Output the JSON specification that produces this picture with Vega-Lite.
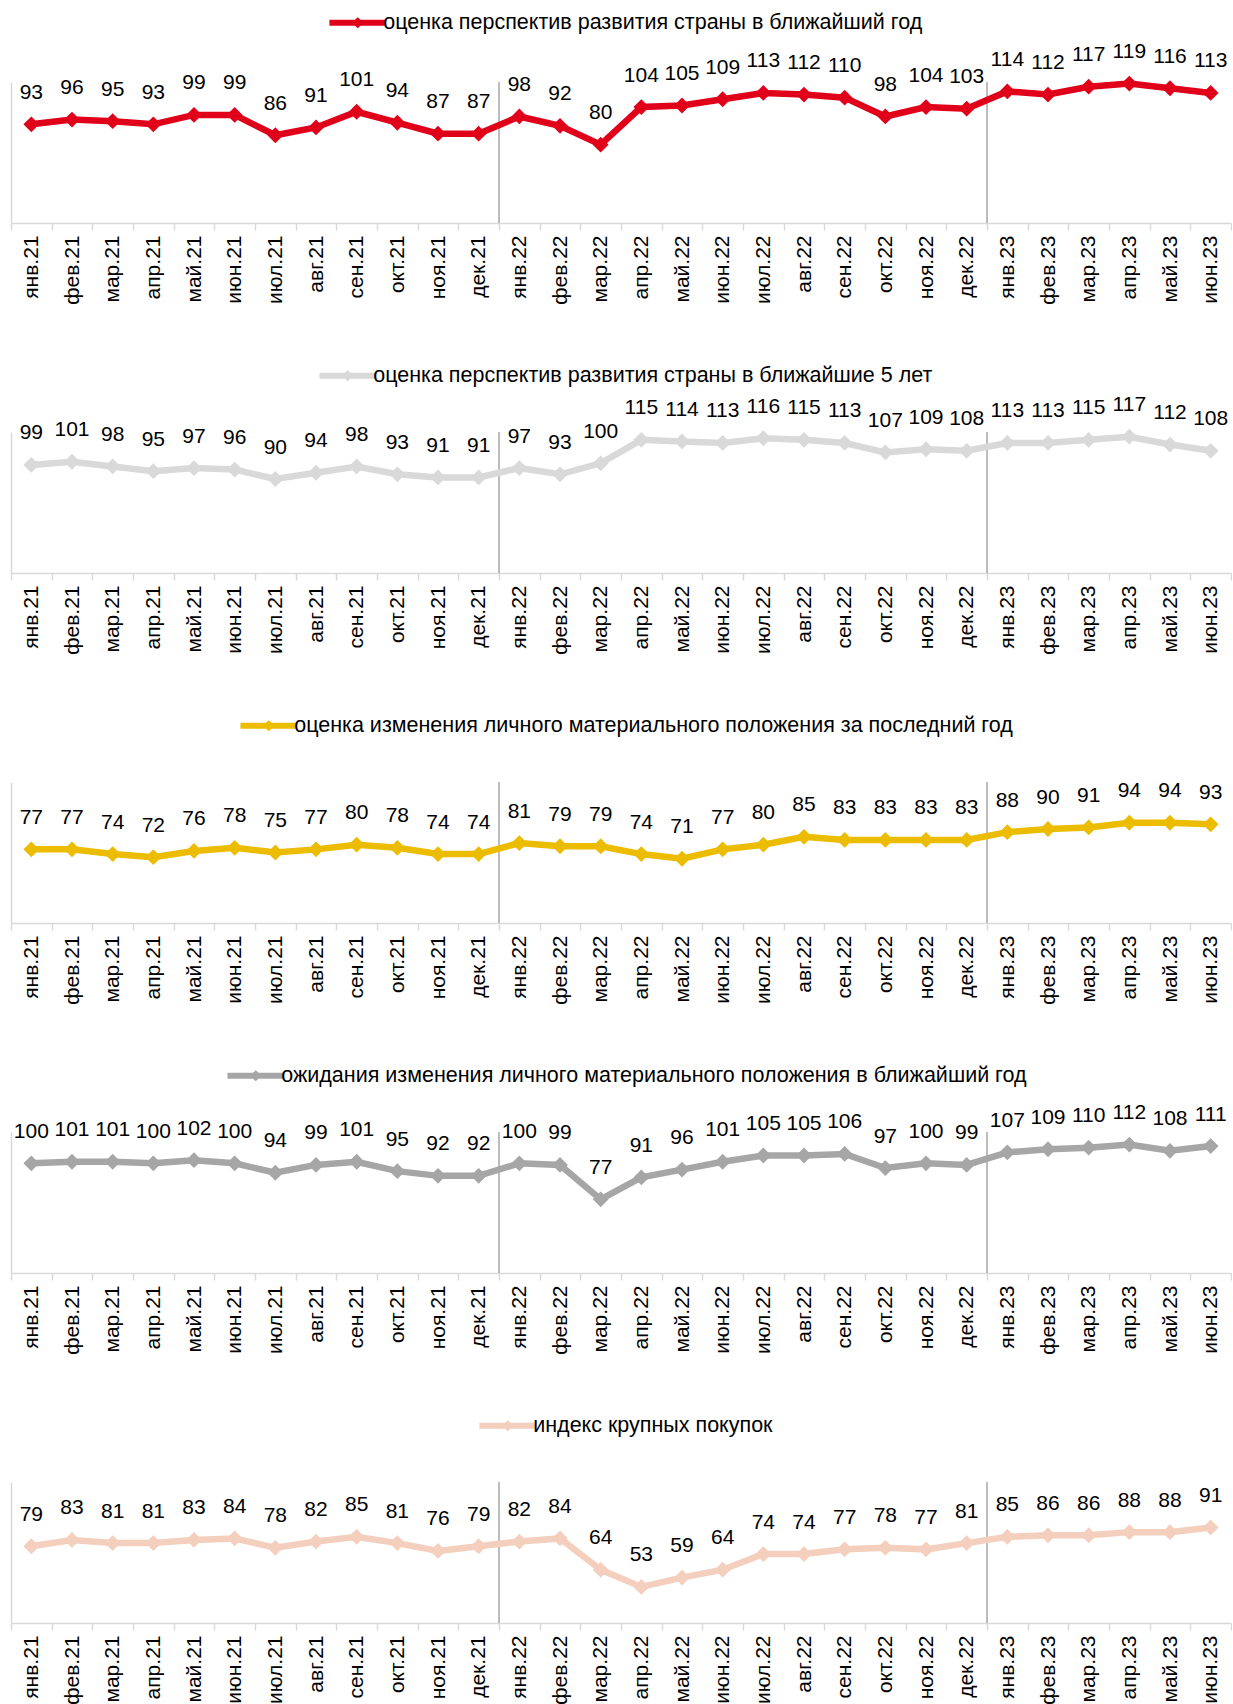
{
  "$schema": "https://vega.github.io/schema/vega-lite/v6.json",
  "padding": {"left": 0, "top": 12, "right": 0, "bottom": 0},
  "background": "white",
  "config": {
    "font": "Liberation Sans",
    "view": {"stroke": null},
    "axisX": {"domainColor": "#d9d9d9", "domainWidth": 1.5, "tickColor": "#d9d9d9", "tickWidth": 1.5, "tickSize": 7, "tickBand": "extent", "labelAngle": -90, "labelFontSize": 21, "labelFont": "Liberation Sans", "labelColor": "#000000", "labelPadding": 5, "title": null, "grid": false, "labelOverlap": false},
    "axisY": {"domainColor": "#d9d9d9", "domainWidth": 1.5, "ticks": false, "labels": false, "grid": false, "title": null, "minExtent": 0, "maxExtent": 0, "labelPadding": 0, "offset": 0},
    "legend": {"labelFontSize": 21.5, "labelFont": "Liberation Sans", "labelColor": "#000000", "labelLimit": 2000, "symbolStrokeWidth": 0, "symbolOpacity": 1, "labelOffset": 14.7, "padding": 0}
  },
  "datasets": {
    "s1": [
      {"series": "оценка перспектив развития страны в ближайший год", "month": "янв.21", "value": 93},
      {"series": "оценка перспектив развития страны в ближайший год", "month": "фев.21", "value": 96},
      {"series": "оценка перспектив развития страны в ближайший год", "month": "мар.21", "value": 95},
      {"series": "оценка перспектив развития страны в ближайший год", "month": "апр.21", "value": 93},
      {"series": "оценка перспектив развития страны в ближайший год", "month": "май.21", "value": 99},
      {"series": "оценка перспектив развития страны в ближайший год", "month": "июн.21", "value": 99},
      {"series": "оценка перспектив развития страны в ближайший год", "month": "июл.21", "value": 86},
      {"series": "оценка перспектив развития страны в ближайший год", "month": "авг.21", "value": 91},
      {"series": "оценка перспектив развития страны в ближайший год", "month": "сен.21", "value": 101},
      {"series": "оценка перспектив развития страны в ближайший год", "month": "окт.21", "value": 94},
      {"series": "оценка перспектив развития страны в ближайший год", "month": "ноя.21", "value": 87},
      {"series": "оценка перспектив развития страны в ближайший год", "month": "дек.21", "value": 87},
      {"series": "оценка перспектив развития страны в ближайший год", "month": "янв.22", "value": 98},
      {"series": "оценка перспектив развития страны в ближайший год", "month": "фев.22", "value": 92},
      {"series": "оценка перспектив развития страны в ближайший год", "month": "мар.22", "value": 80},
      {"series": "оценка перспектив развития страны в ближайший год", "month": "апр.22", "value": 104},
      {"series": "оценка перспектив развития страны в ближайший год", "month": "май.22", "value": 105},
      {"series": "оценка перспектив развития страны в ближайший год", "month": "июн.22", "value": 109},
      {"series": "оценка перспектив развития страны в ближайший год", "month": "июл.22", "value": 113},
      {"series": "оценка перспектив развития страны в ближайший год", "month": "авг.22", "value": 112},
      {"series": "оценка перспектив развития страны в ближайший год", "month": "сен.22", "value": 110},
      {"series": "оценка перспектив развития страны в ближайший год", "month": "окт.22", "value": 98},
      {"series": "оценка перспектив развития страны в ближайший год", "month": "ноя.22", "value": 104},
      {"series": "оценка перспектив развития страны в ближайший год", "month": "дек.22", "value": 103},
      {"series": "оценка перспектив развития страны в ближайший год", "month": "янв.23", "value": 114},
      {"series": "оценка перспектив развития страны в ближайший год", "month": "фев.23", "value": 112},
      {"series": "оценка перспектив развития страны в ближайший год", "month": "мар.23", "value": 117},
      {"series": "оценка перспектив развития страны в ближайший год", "month": "апр.23", "value": 119},
      {"series": "оценка перспектив развития страны в ближайший год", "month": "май.23", "value": 116},
      {"series": "оценка перспектив развития страны в ближайший год", "month": "июн.23", "value": 113}
    ],
    "s2": [
      {"series": "оценка перспектив развития страны в ближайшие 5 лет", "month": "янв.21", "value": 99},
      {"series": "оценка перспектив развития страны в ближайшие 5 лет", "month": "фев.21", "value": 101},
      {"series": "оценка перспектив развития страны в ближайшие 5 лет", "month": "мар.21", "value": 98},
      {"series": "оценка перспектив развития страны в ближайшие 5 лет", "month": "апр.21", "value": 95},
      {"series": "оценка перспектив развития страны в ближайшие 5 лет", "month": "май.21", "value": 97},
      {"series": "оценка перспектив развития страны в ближайшие 5 лет", "month": "июн.21", "value": 96},
      {"series": "оценка перспектив развития страны в ближайшие 5 лет", "month": "июл.21", "value": 90},
      {"series": "оценка перспектив развития страны в ближайшие 5 лет", "month": "авг.21", "value": 94},
      {"series": "оценка перспектив развития страны в ближайшие 5 лет", "month": "сен.21", "value": 98},
      {"series": "оценка перспектив развития страны в ближайшие 5 лет", "month": "окт.21", "value": 93},
      {"series": "оценка перспектив развития страны в ближайшие 5 лет", "month": "ноя.21", "value": 91},
      {"series": "оценка перспектив развития страны в ближайшие 5 лет", "month": "дек.21", "value": 91},
      {"series": "оценка перспектив развития страны в ближайшие 5 лет", "month": "янв.22", "value": 97},
      {"series": "оценка перспектив развития страны в ближайшие 5 лет", "month": "фев.22", "value": 93},
      {"series": "оценка перспектив развития страны в ближайшие 5 лет", "month": "мар.22", "value": 100},
      {"series": "оценка перспектив развития страны в ближайшие 5 лет", "month": "апр.22", "value": 115},
      {"series": "оценка перспектив развития страны в ближайшие 5 лет", "month": "май.22", "value": 114},
      {"series": "оценка перспектив развития страны в ближайшие 5 лет", "month": "июн.22", "value": 113},
      {"series": "оценка перспектив развития страны в ближайшие 5 лет", "month": "июл.22", "value": 116},
      {"series": "оценка перспектив развития страны в ближайшие 5 лет", "month": "авг.22", "value": 115},
      {"series": "оценка перспектив развития страны в ближайшие 5 лет", "month": "сен.22", "value": 113},
      {"series": "оценка перспектив развития страны в ближайшие 5 лет", "month": "окт.22", "value": 107},
      {"series": "оценка перспектив развития страны в ближайшие 5 лет", "month": "ноя.22", "value": 109},
      {"series": "оценка перспектив развития страны в ближайшие 5 лет", "month": "дек.22", "value": 108},
      {"series": "оценка перспектив развития страны в ближайшие 5 лет", "month": "янв.23", "value": 113},
      {"series": "оценка перспектив развития страны в ближайшие 5 лет", "month": "фев.23", "value": 113},
      {"series": "оценка перспектив развития страны в ближайшие 5 лет", "month": "мар.23", "value": 115},
      {"series": "оценка перспектив развития страны в ближайшие 5 лет", "month": "апр.23", "value": 117},
      {"series": "оценка перспектив развития страны в ближайшие 5 лет", "month": "май.23", "value": 112},
      {"series": "оценка перспектив развития страны в ближайшие 5 лет", "month": "июн.23", "value": 108}
    ],
    "s3": [
      {"series": "оценка изменения личного материального положения за последний год", "month": "янв.21", "value": 77},
      {"series": "оценка изменения личного материального положения за последний год", "month": "фев.21", "value": 77},
      {"series": "оценка изменения личного материального положения за последний год", "month": "мар.21", "value": 74},
      {"series": "оценка изменения личного материального положения за последний год", "month": "апр.21", "value": 72},
      {"series": "оценка изменения личного материального положения за последний год", "month": "май.21", "value": 76},
      {"series": "оценка изменения личного материального положения за последний год", "month": "июн.21", "value": 78},
      {"series": "оценка изменения личного материального положения за последний год", "month": "июл.21", "value": 75},
      {"series": "оценка изменения личного материального положения за последний год", "month": "авг.21", "value": 77},
      {"series": "оценка изменения личного материального положения за последний год", "month": "сен.21", "value": 80},
      {"series": "оценка изменения личного материального положения за последний год", "month": "окт.21", "value": 78},
      {"series": "оценка изменения личного материального положения за последний год", "month": "ноя.21", "value": 74},
      {"series": "оценка изменения личного материального положения за последний год", "month": "дек.21", "value": 74},
      {"series": "оценка изменения личного материального положения за последний год", "month": "янв.22", "value": 81},
      {"series": "оценка изменения личного материального положения за последний год", "month": "фев.22", "value": 79},
      {"series": "оценка изменения личного материального положения за последний год", "month": "мар.22", "value": 79},
      {"series": "оценка изменения личного материального положения за последний год", "month": "апр.22", "value": 74},
      {"series": "оценка изменения личного материального положения за последний год", "month": "май.22", "value": 71},
      {"series": "оценка изменения личного материального положения за последний год", "month": "июн.22", "value": 77},
      {"series": "оценка изменения личного материального положения за последний год", "month": "июл.22", "value": 80},
      {"series": "оценка изменения личного материального положения за последний год", "month": "авг.22", "value": 85},
      {"series": "оценка изменения личного материального положения за последний год", "month": "сен.22", "value": 83},
      {"series": "оценка изменения личного материального положения за последний год", "month": "окт.22", "value": 83},
      {"series": "оценка изменения личного материального положения за последний год", "month": "ноя.22", "value": 83},
      {"series": "оценка изменения личного материального положения за последний год", "month": "дек.22", "value": 83},
      {"series": "оценка изменения личного материального положения за последний год", "month": "янв.23", "value": 88},
      {"series": "оценка изменения личного материального положения за последний год", "month": "фев.23", "value": 90},
      {"series": "оценка изменения личного материального положения за последний год", "month": "мар.23", "value": 91},
      {"series": "оценка изменения личного материального положения за последний год", "month": "апр.23", "value": 94},
      {"series": "оценка изменения личного материального положения за последний год", "month": "май.23", "value": 94},
      {"series": "оценка изменения личного материального положения за последний год", "month": "июн.23", "value": 93}
    ],
    "s4": [
      {"series": "ожидания изменения личного материального положения в ближайший год", "month": "янв.21", "value": 100},
      {"series": "ожидания изменения личного материального положения в ближайший год", "month": "фев.21", "value": 101},
      {"series": "ожидания изменения личного материального положения в ближайший год", "month": "мар.21", "value": 101},
      {"series": "ожидания изменения личного материального положения в ближайший год", "month": "апр.21", "value": 100},
      {"series": "ожидания изменения личного материального положения в ближайший год", "month": "май.21", "value": 102},
      {"series": "ожидания изменения личного материального положения в ближайший год", "month": "июн.21", "value": 100},
      {"series": "ожидания изменения личного материального положения в ближайший год", "month": "июл.21", "value": 94},
      {"series": "ожидания изменения личного материального положения в ближайший год", "month": "авг.21", "value": 99},
      {"series": "ожидания изменения личного материального положения в ближайший год", "month": "сен.21", "value": 101},
      {"series": "ожидания изменения личного материального положения в ближайший год", "month": "окт.21", "value": 95},
      {"series": "ожидания изменения личного материального положения в ближайший год", "month": "ноя.21", "value": 92},
      {"series": "ожидания изменения личного материального положения в ближайший год", "month": "дек.21", "value": 92},
      {"series": "ожидания изменения личного материального положения в ближайший год", "month": "янв.22", "value": 100},
      {"series": "ожидания изменения личного материального положения в ближайший год", "month": "фев.22", "value": 99},
      {"series": "ожидания изменения личного материального положения в ближайший год", "month": "мар.22", "value": 77},
      {"series": "ожидания изменения личного материального положения в ближайший год", "month": "апр.22", "value": 91},
      {"series": "ожидания изменения личного материального положения в ближайший год", "month": "май.22", "value": 96},
      {"series": "ожидания изменения личного материального положения в ближайший год", "month": "июн.22", "value": 101},
      {"series": "ожидания изменения личного материального положения в ближайший год", "month": "июл.22", "value": 105},
      {"series": "ожидания изменения личного материального положения в ближайший год", "month": "авг.22", "value": 105},
      {"series": "ожидания изменения личного материального положения в ближайший год", "month": "сен.22", "value": 106},
      {"series": "ожидания изменения личного материального положения в ближайший год", "month": "окт.22", "value": 97},
      {"series": "ожидания изменения личного материального положения в ближайший год", "month": "ноя.22", "value": 100},
      {"series": "ожидания изменения личного материального положения в ближайший год", "month": "дек.22", "value": 99},
      {"series": "ожидания изменения личного материального положения в ближайший год", "month": "янв.23", "value": 107},
      {"series": "ожидания изменения личного материального положения в ближайший год", "month": "фев.23", "value": 109},
      {"series": "ожидания изменения личного материального положения в ближайший год", "month": "мар.23", "value": 110},
      {"series": "ожидания изменения личного материального положения в ближайший год", "month": "апр.23", "value": 112},
      {"series": "ожидания изменения личного материального положения в ближайший год", "month": "май.23", "value": 108},
      {"series": "ожидания изменения личного материального положения в ближайший год", "month": "июн.23", "value": 111}
    ],
    "s5": [
      {"series": "индекс крупных покупок", "month": "янв.21", "value": 79},
      {"series": "индекс крупных покупок", "month": "фев.21", "value": 83},
      {"series": "индекс крупных покупок", "month": "мар.21", "value": 81},
      {"series": "индекс крупных покупок", "month": "апр.21", "value": 81},
      {"series": "индекс крупных покупок", "month": "май.21", "value": 83},
      {"series": "индекс крупных покупок", "month": "июн.21", "value": 84},
      {"series": "индекс крупных покупок", "month": "июл.21", "value": 78},
      {"series": "индекс крупных покупок", "month": "авг.21", "value": 82},
      {"series": "индекс крупных покупок", "month": "сен.21", "value": 85},
      {"series": "индекс крупных покупок", "month": "окт.21", "value": 81},
      {"series": "индекс крупных покупок", "month": "ноя.21", "value": 76},
      {"series": "индекс крупных покупок", "month": "дек.21", "value": 79},
      {"series": "индекс крупных покупок", "month": "янв.22", "value": 82},
      {"series": "индекс крупных покупок", "month": "фев.22", "value": 84},
      {"series": "индекс крупных покупок", "month": "мар.22", "value": 64},
      {"series": "индекс крупных покупок", "month": "апр.22", "value": 53},
      {"series": "индекс крупных покупок", "month": "май.22", "value": 59},
      {"series": "индекс крупных покупок", "month": "июн.22", "value": 64},
      {"series": "индекс крупных покупок", "month": "июл.22", "value": 74},
      {"series": "индекс крупных покупок", "month": "авг.22", "value": 74},
      {"series": "индекс крупных покупок", "month": "сен.22", "value": 77},
      {"series": "индекс крупных покупок", "month": "окт.22", "value": 78},
      {"series": "индекс крупных покупок", "month": "ноя.22", "value": 77},
      {"series": "индекс крупных покупок", "month": "дек.22", "value": 81},
      {"series": "индекс крупных покупок", "month": "янв.23", "value": 85},
      {"series": "индекс крупных покупок", "month": "фев.23", "value": 86},
      {"series": "индекс крупных покупок", "month": "мар.23", "value": 86},
      {"series": "индекс крупных покупок", "month": "апр.23", "value": 88},
      {"series": "индекс крупных покупок", "month": "май.23", "value": 88},
      {"series": "индекс крупных покупок", "month": "июн.23", "value": 91}
    ]
  },
  "vconcat": [
    {
      "data": {"name": "s1"},
      "width": 1220, "height": 141,
      "encoding": {
        "x": {"field": "month", "type": "ordinal", "sort": ["янв.21","фев.21","мар.21","апр.21","май.21","июн.21","июл.21","авг.21","сен.21","окт.21","ноя.21","дек.21","янв.22","фев.22","мар.22","апр.22","май.22","июн.22","июл.22","авг.22","сен.22","окт.22","ноя.22","дек.22","янв.23","фев.23","мар.23","апр.23","май.23","июн.23"], "scale": {"type": "band", "paddingInner": 0, "paddingOuter": 0}},
        "y": {"field": "value", "type": "quantitative", "scale": {"domain": [30, 120], "nice": false, "zero": false}}
      },
      "layer": [
        {"transform": [{"filter": "datum.month === 'янв.22' || datum.month === 'янв.23'"}], "mark": {"type": "rule", "color": "#a6a6a6", "strokeWidth": 1.5}, "encoding": {"x": {"field": "month", "type": "ordinal", "bandPosition": 0, "sort": ["янв.21","фев.21","мар.21","апр.21","май.21","июн.21","июл.21","авг.21","сен.21","окт.21","ноя.21","дек.21","янв.22","фев.22","мар.22","апр.22","май.22","июн.22","июл.22","авг.22","сен.22","окт.22","ноя.22","дек.22","янв.23","фев.23","мар.23","апр.23","май.23","июн.23"]}, "y": null}},
        {"mark": {"type": "line", "color": "#E1001A", "strokeWidth": 6.5}},
        {"mark": {"type": "point", "shape": "diamond", "filled": true, "size": 250, "opacity": 1}, "encoding": {"fill": {"field": "series", "type": "nominal", "scale": {"range": ["#E1001A"]}, "legend": {"orient": "none", "legendX": 336, "legendY": -70, "title": null, "symbolType": "M-5.66,-0.6L5.66,-0.6L5.66,0.6L-5.66,0.6ZM-1.2,0L0,-1.1L1.2,0L0,1.1Z", "symbolSize": 100}}}},
        {"mark": {"type": "text", "dy": -31.5, "fontSize": 21, "color": "#000000"}, "encoding": {"text": {"field": "value", "type": "quantitative"}}}
      ]
    },
    {
      "data": {"name": "s2"},
      "width": 1220, "height": 141,
      "encoding": {
        "x": {"field": "month", "type": "ordinal", "sort": ["янв.21","фев.21","мар.21","апр.21","май.21","июн.21","июл.21","авг.21","сен.21","окт.21","ноя.21","дек.21","янв.22","фев.22","мар.22","апр.22","май.22","июн.22","июл.22","авг.22","сен.22","окт.22","ноя.22","дек.22","янв.23","фев.23","мар.23","апр.23","май.23","июн.23"], "scale": {"type": "band", "paddingInner": 0, "paddingOuter": 0}},
        "y": {"field": "value", "type": "quantitative", "scale": {"domain": [30, 120], "nice": false, "zero": false}}
      },
      "layer": [
        {"transform": [{"filter": "datum.month === 'янв.22' || datum.month === 'янв.23'"}], "mark": {"type": "rule", "color": "#a6a6a6", "strokeWidth": 1.5}, "encoding": {"x": {"field": "month", "type": "ordinal", "bandPosition": 0, "sort": ["янв.21","фев.21","мар.21","апр.21","май.21","июн.21","июл.21","авг.21","сен.21","окт.21","ноя.21","дек.21","янв.22","фев.22","мар.22","апр.22","май.22","июн.22","июл.22","авг.22","сен.22","окт.22","ноя.22","дек.22","янв.23","фев.23","мар.23","апр.23","май.23","июн.23"]}, "y": null}},
        {"mark": {"type": "line", "color": "#D9D9D9", "strokeWidth": 6.5}},
        {"mark": {"type": "point", "shape": "diamond", "filled": true, "size": 250, "opacity": 1}, "encoding": {"fill": {"field": "series", "type": "nominal", "scale": {"range": ["#D9D9D9"]}, "legend": {"orient": "none", "legendX": 326, "legendY": -67, "title": null, "symbolType": "M-5.66,-0.6L5.66,-0.6L5.66,0.6L-5.66,0.6ZM-1.2,0L0,-1.1L1.2,0L0,1.1Z", "symbolSize": 100}}}},
        {"mark": {"type": "text", "dy": -31.5, "fontSize": 21, "color": "#000000"}, "encoding": {"text": {"field": "value", "type": "quantitative"}}}
      ]
    },
    {
      "data": {"name": "s3"},
      "width": 1220, "height": 141,
      "encoding": {
        "x": {"field": "month", "type": "ordinal", "sort": ["янв.21","фев.21","мар.21","апр.21","май.21","июн.21","июл.21","авг.21","сен.21","окт.21","ноя.21","дек.21","янв.22","фев.22","мар.22","апр.22","май.22","июн.22","июл.22","авг.22","сен.22","окт.22","ноя.22","дек.22","янв.23","фев.23","мар.23","апр.23","май.23","июн.23"], "scale": {"type": "band", "paddingInner": 0, "paddingOuter": 0}},
        "y": {"field": "value", "type": "quantitative", "scale": {"domain": [30, 120], "nice": false, "zero": false}}
      },
      "layer": [
        {"transform": [{"filter": "datum.month === 'янв.22' || datum.month === 'янв.23'"}], "mark": {"type": "rule", "color": "#a6a6a6", "strokeWidth": 1.5}, "encoding": {"x": {"field": "month", "type": "ordinal", "bandPosition": 0, "sort": ["янв.21","фев.21","мар.21","апр.21","май.21","июн.21","июл.21","авг.21","сен.21","окт.21","ноя.21","дек.21","янв.22","фев.22","мар.22","апр.22","май.22","июн.22","июл.22","авг.22","сен.22","окт.22","ноя.22","дек.22","янв.23","фев.23","мар.23","апр.23","май.23","июн.23"]}, "y": null}},
        {"mark": {"type": "line", "color": "#EBBC00", "strokeWidth": 6.5}},
        {"mark": {"type": "point", "shape": "diamond", "filled": true, "size": 250, "opacity": 1}, "encoding": {"fill": {"field": "series", "type": "nominal", "scale": {"range": ["#EBBC00"]}, "legend": {"orient": "none", "legendX": 247, "legendY": -67, "title": null, "symbolType": "M-5.66,-0.6L5.66,-0.6L5.66,0.6L-5.66,0.6ZM-1.2,0L0,-1.1L1.2,0L0,1.1Z", "symbolSize": 100}}}},
        {"mark": {"type": "text", "dy": -31.5, "fontSize": 21, "color": "#000000"}, "encoding": {"text": {"field": "value", "type": "quantitative"}}}
      ]
    },
    {
      "data": {"name": "s4"},
      "width": 1220, "height": 141,
      "encoding": {
        "x": {"field": "month", "type": "ordinal", "sort": ["янв.21","фев.21","мар.21","апр.21","май.21","июн.21","июл.21","авг.21","сен.21","окт.21","ноя.21","дек.21","янв.22","фев.22","мар.22","апр.22","май.22","июн.22","июл.22","авг.22","сен.22","окт.22","ноя.22","дек.22","янв.23","фев.23","мар.23","апр.23","май.23","июн.23"], "scale": {"type": "band", "paddingInner": 0, "paddingOuter": 0}},
        "y": {"field": "value", "type": "quantitative", "scale": {"domain": [30, 120], "nice": false, "zero": false}}
      },
      "layer": [
        {"transform": [{"filter": "datum.month === 'янв.22' || datum.month === 'янв.23'"}], "mark": {"type": "rule", "color": "#a6a6a6", "strokeWidth": 1.5}, "encoding": {"x": {"field": "month", "type": "ordinal", "bandPosition": 0, "sort": ["янв.21","фев.21","мар.21","апр.21","май.21","июн.21","июл.21","авг.21","сен.21","окт.21","ноя.21","дек.21","янв.22","фев.22","мар.22","апр.22","май.22","июн.22","июл.22","авг.22","сен.22","окт.22","ноя.22","дек.22","янв.23","фев.23","мар.23","апр.23","май.23","июн.23"]}, "y": null}},
        {"mark": {"type": "line", "color": "#A6A6A6", "strokeWidth": 6.5}},
        {"mark": {"type": "point", "shape": "diamond", "filled": true, "size": 250, "opacity": 1}, "encoding": {"fill": {"field": "series", "type": "nominal", "scale": {"range": ["#A6A6A6"]}, "legend": {"orient": "none", "legendX": 234, "legendY": -67, "title": null, "symbolType": "M-5.66,-0.6L5.66,-0.6L5.66,0.6L-5.66,0.6ZM-1.2,0L0,-1.1L1.2,0L0,1.1Z", "symbolSize": 100}}}},
        {"mark": {"type": "text", "dy": -31.5, "fontSize": 21, "color": "#000000"}, "encoding": {"text": {"field": "value", "type": "quantitative"}}}
      ]
    },
    {
      "data": {"name": "s5"},
      "width": 1220, "height": 141,
      "encoding": {
        "x": {"field": "month", "type": "ordinal", "sort": ["янв.21","фев.21","мар.21","апр.21","май.21","июн.21","июл.21","авг.21","сен.21","окт.21","ноя.21","дек.21","янв.22","фев.22","мар.22","апр.22","май.22","июн.22","июл.22","авг.22","сен.22","окт.22","ноя.22","дек.22","янв.23","фев.23","мар.23","апр.23","май.23","июн.23"], "scale": {"type": "band", "paddingInner": 0, "paddingOuter": 0}},
        "y": {"field": "value", "type": "quantitative", "scale": {"domain": [30, 120], "nice": false, "zero": false}}
      },
      "layer": [
        {"transform": [{"filter": "datum.month === 'янв.22' || datum.month === 'янв.23'"}], "mark": {"type": "rule", "color": "#a6a6a6", "strokeWidth": 1.5}, "encoding": {"x": {"field": "month", "type": "ordinal", "bandPosition": 0, "sort": ["янв.21","фев.21","мар.21","апр.21","май.21","июн.21","июл.21","авг.21","сен.21","окт.21","ноя.21","дек.21","янв.22","фев.22","мар.22","апр.22","май.22","июн.22","июл.22","авг.22","сен.22","окт.22","ноя.22","дек.22","янв.23","фев.23","мар.23","апр.23","май.23","июн.23"]}, "y": null}},
        {"mark": {"type": "line", "color": "#F4CFBD", "strokeWidth": 6.5}},
        {"mark": {"type": "point", "shape": "diamond", "filled": true, "size": 250, "opacity": 1}, "encoding": {"fill": {"field": "series", "type": "nominal", "scale": {"range": ["#F4CFBD"]}, "legend": {"orient": "none", "legendX": 486, "legendY": -67, "title": null, "symbolType": "M-5.66,-0.6L5.66,-0.6L5.66,0.6L-5.66,0.6ZM-1.2,0L0,-1.1L1.2,0L0,1.1Z", "symbolSize": 100}}}},
        {"mark": {"type": "text", "dy": -31.5, "fontSize": 21, "color": "#000000"}, "encoding": {"text": {"field": "value", "type": "quantitative"}}}
      ]
    }
  ],
  "spacing": 209,
  "bounds": "flush",
  "resolve": {"scale": {"fill": "independent", "x": "independent", "y": "independent"}, "legend": {"fill": "independent"}}
}
